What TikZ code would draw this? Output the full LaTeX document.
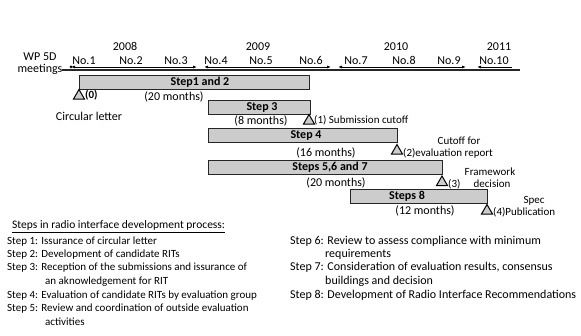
\documentclass[tikz,border=0pt]{standalone}
\usepackage{fontspec}
\setmainfont{Carlito}
\usetikzlibrary{arrows.meta,shapes.geometric}
\begin{document}
\begin{tikzpicture}[x=1pt,y=-1pt,
  txt/.style={font=\fontsize{12}{13}\selectfont, inner sep=0, anchor=base},
  note/.style={font=\fontsize{11}{12}\selectfont, inner sep=0, anchor=base},
  notew/.style={note, anchor=base west},
  legendl/.style={font=\fontsize{11}{12}\selectfont, inner sep=0, anchor=base west},
  legendr/.style={font=\fontsize{12}{13}\selectfont, inner sep=0, anchor=base west},
  bar/.style={draw=black!85, fill=black!20, line width=0.9pt, minimum height=14pt, inner sep=0},
  barlabel/.style={font=\bfseries\fontsize{12}{13}\selectfont, inner sep=0, anchor=base},
  milestone/.style={regular polygon, regular polygon sides=3, draw=black, fill=black!20,
              line width=1pt, minimum size=13pt, inner sep=0, outer sep=0, anchor=north},
  yeararrow/.style={line width=0.8pt, {Latex[length=4pt,width=3pt]}-{Latex[length=4pt,width=3pt]}},
  mainline/.style={line width=1.3pt, black!85}
]
\useasboundingbox (0,0) rectangle (581,336);

% timeline
\node[txt] (wp) at (40,61) {WP 5D};
\node[txt] (meet) at (40,73) {meetings};
\coordinate (tl0) at (62,70);
\coordinate (tl1) at (520,70);
\draw[mainline] (tl0) -- (tl1);

\node[txt] (y8) at (125,51) {2008};
\node[txt] (y9) at (258,51) {2009};
\node[txt] (y10) at (396,51) {2010};
\node[txt] (y11) at (499,51) {2011};

\coordinate (a8l) at (71,67); \coordinate (a8r) at (197,67);
\coordinate (a9l) at (204,67); \coordinate (a9r) at (331,67);
\coordinate (a10l) at (338,67); \coordinate (a10r) at (466,67);
\coordinate (a11l) at (477,67); \coordinate (a11r) at (512,67);
\draw[yeararrow] (a8l) -- (a8r);
\fill (a8l) circle (1.5pt);
\draw[yeararrow] (a9l) -- (a9r);
\draw[yeararrow] (a10l) -- (a10r);
\draw[line width=0.8pt, {Latex[length=4pt,width=3pt]}-] (a11l) -- (a11r);

\foreach \n/\x in {1/84,2/131,3/176,4/216,5/261,6/311,7/356,8/404,9/449,10/494}
  \node[txt] (m\n) at (\x,65) {No.\n};

% bars
\node[bar, minimum width=230pt] (b12) at (194,82) {};
\node[bar, minimum width=102pt] (b3) at (259,107) {};
\node[bar, minimum width=189pt] (b4) at (302.5,135) {};
\node[bar, minimum width=234pt] (b567) at (325,167) {};
\node[bar, minimum width=137pt] (b8) at (418.5,196) {};
\node[barlabel] (lb12) at (200,86) {Step1 and 2};
\node[barlabel] (lb3) at (262,111) {Step 3};
\node[barlabel] (lb4) at (306,139) {Step 4};
\node[barlabel] (lb567) at (330,171) {Steps 5,6 and 7};
\node[barlabel] (lb8) at (407,200) {Steps 8};

% durations
\node[txt] (d12) at (174,101) {(20 months)};
\node[txt] (d3) at (261,125) {(8 months)};
\node[txt] (d4) at (326,157) {(16 months)};
\node[txt] (d567) at (336,187) {(20 months)};
\node[txt] (d8) at (425,215) {(12 months)};

% milestones
\node[milestone] (t0) at (79,89.5) {};
\node[notew, font=\bfseries\fontsize{11}{12}\selectfont] (l0) at (85,99) {(0)};
\node[txt] (c0) at (89,121) {Circular letter};

\node[milestone] (t1) at (309,114.5) {};
\node[notew] (l1) at (314,124) {(1) Submission cutoff};

\node[milestone] (t2) at (397,144.5) {};
\node[notew] (l2) at (403,157) {(2)evaluation report};
\node[note] (l2b) at (459,145) {Cutoff for};

\node[milestone] (t3) at (442,176) {};
\node[notew] (l3) at (448,188) {(3)};
\node[note] (l3a) at (490,176) {Framework};
\node[note] (l3b) at (492,188) {decision};

\node[milestone] (t4) at (487,204.5) {};
\node[notew] (l4) at (493,216) {(4)Publication};
\node[note] (l4b) at (534,204) {Spec};

% legend
\node[legendl, font=\fontsize{11.5}{13}\selectfont] (lt) at (12,229) {\underline{Steps in radio interface development process:}};
\node[legendl] (s1) at (7,245) {Step 1: Issurance of circular letter};
\node[legendl] (s2) at (7,258) {Step 2: Development of candidate RITs};
\node[legendl] (s3) at (7,271) {Step 3: Reception of the submissions and issurance of};
\node[legendl] (s3b) at (45,285) {an aknowledgement for RIT};
\node[legendl] (s4) at (7,299) {Step 4: Evaluation of candidate RITs by evaluation group};
\node[legendl] (s5) at (7,312) {Step 5: Review and coordination of outside evaluation};
\node[legendl] (s5b) at (45,326) {activities};

\node[legendr] (s6) at (290,245) {Step 6: Review to assess compliance with minimum};
\node[legendr] (s6b) at (325,258) {requirements};
\node[legendr] (s7) at (290,271) {Step 7: Consideration of evaluation results, consensus};
\node[legendr] (s7b) at (325,285) {buildings and decision};
\node[legendr] (s8) at (290,299) {Step 8: Development of Radio Interface Recommendations};
\end{tikzpicture}
\end{document}
